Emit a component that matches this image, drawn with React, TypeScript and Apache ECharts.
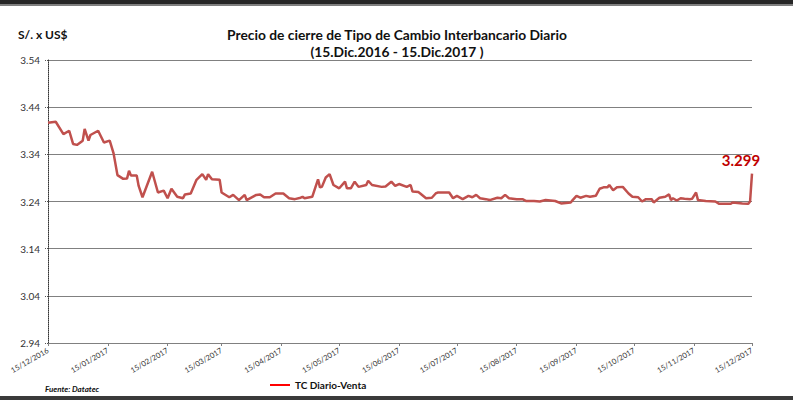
import React, { useEffect, useRef } from "react";
import * as echarts from "echarts";

const titleLine1 = "Precio de cierre de Tipo de Cambio Interbancario Diario";
const titleLine2 = "(15.Dic.2016 - 15.Dic.2017 )";
const yAxisTitle = "S/. x US$";
const sourceText = "Fuente: Datatec";
const seriesName = "TC Diario-Venta";
const rangeStart = "2016-12-15";
const rangeEnd = "2017-12-15";
const yTicks = [2.94, 3.04, 3.14, 3.24, 3.34, 3.44, 3.54];

const dates = [
  "15/12/2016", "19/12/2016", "23/12/2016", "26/12/2016", "28/12/2016", "30/12/2016",
  "02/01/2017", "03/01/2017", "05/01/2017", "06/01/2017", "10/01/2017", "13/01/2017",
  "16/01/2017", "18/01/2017", "20/01/2017", "23/01/2017", "25/01/2017", "26/01/2017",
  "27/01/2017", "30/01/2017", "31/01/2017", "02/02/2017", "07/02/2017", "10/02/2017",
  "13/02/2017", "15/02/2017", "17/02/2017", "20/02/2017", "23/02/2017", "24/02/2017",
  "27/02/2017", "02/03/2017", "05/03/2017", "07/03/2017", "08/03/2017", "10/03/2017",
  "14/03/2017", "15/03/2017", "19/03/2017", "21/03/2017", "24/03/2017", "27/03/2017",
  "28/03/2017", "02/04/2017", "04/04/2017", "06/04/2017", "09/04/2017", "12/04/2017",
  "16/04/2017", "19/04/2017", "22/04/2017", "25/04/2017", "26/04/2017", "27/04/2017",
  "01/05/2017", "04/05/2017", "05/05/2017", "06/05/2017", "08/05/2017", "10/05/2017",
  "12/05/2017", "15/05/2017", "18/05/2017", "19/05/2017", "21/05/2017", "23/05/2017",
  "25/05/2017", "29/05/2017", "30/05/2017", "01/06/2017", "06/06/2017", "08/06/2017",
  "11/06/2017", "13/06/2017", "15/06/2017", "19/06/2017", "21/06/2017", "22/06/2017",
  "25/06/2017", "26/06/2017", "29/06/2017", "02/07/2017", "04/07/2017", "05/07/2017",
  "11/07/2017", "13/07/2017", "15/07/2017", "18/07/2017", "21/07/2017", "23/07/2017",
  "25/07/2017", "27/07/2017", "30/07/2017", "01/08/2017", "05/08/2017", "07/08/2017",
  "09/08/2017", "11/08/2017", "15/08/2017", "18/08/2017", "20/08/2017", "24/08/2017",
  "27/08/2017", "30/08/2017", "04/09/2017", "07/09/2017", "12/09/2017", "13/09/2017",
  "15/09/2017", "17/09/2017", "20/09/2017", "22/09/2017", "25/09/2017", "27/09/2017",
  "29/09/2017", "01/10/2017", "02/10/2017", "04/10/2017", "06/10/2017", "09/10/2017",
  "12/10/2017", "14/10/2017", "17/10/2017", "19/10/2017", "21/10/2017", "24/10/2017",
  "25/10/2017", "28/10/2017", "31/10/2017", "02/11/2017", "03/11/2017", "04/11/2017",
  "06/11/2017", "08/11/2017", "10/11/2017", "13/11/2017", "14/11/2017", "16/11/2017",
  "17/11/2017", "21/11/2017", "26/11/2017", "28/11/2017", "04/12/2017", "05/12/2017",
  "10/12/2017", "13/12/2017", "14/12/2017", "15/12/2017",
];

const rates = [
  3.407, 3.409, 3.383, 3.39, 3.362, 3.36,
  3.369, 3.394, 3.369, 3.381, 3.39, 3.365,
  3.369, 3.342, 3.296, 3.288, 3.289, 3.305,
  3.295, 3.295, 3.273, 3.249, 3.303, 3.259,
  3.263, 3.247, 3.267, 3.25, 3.247, 3.255,
  3.257, 3.286, 3.298, 3.286, 3.298, 3.287,
  3.286, 3.259, 3.249, 3.254, 3.243, 3.254,
  3.243, 3.254, 3.255, 3.249, 3.249, 3.257,
  3.257, 3.247, 3.245, 3.248, 3.25, 3.247,
  3.25, 3.287, 3.27, 3.271, 3.291, 3.298,
  3.275, 3.268, 3.282, 3.268, 3.268, 3.282,
  3.271, 3.275, 3.284, 3.275, 3.271, 3.272,
  3.282, 3.273, 3.277, 3.271, 3.275, 3.261,
  3.26, 3.257, 3.247, 3.248, 3.257, 3.259,
  3.259, 3.247, 3.252, 3.245, 3.252, 3.249,
  3.254, 3.247, 3.245, 3.243, 3.248, 3.247,
  3.254, 3.247, 3.245, 3.245, 3.241, 3.241,
  3.24, 3.243, 3.241, 3.236, 3.238, 3.243,
  3.252, 3.248, 3.252, 3.25, 3.252, 3.267,
  3.27, 3.27, 3.275, 3.264, 3.27, 3.271,
  3.257, 3.25, 3.249, 3.24, 3.245, 3.245,
  3.238, 3.248, 3.25, 3.255, 3.243, 3.247,
  3.242, 3.247, 3.246, 3.245, 3.246, 3.259,
  3.243, 3.241, 3.24, 3.235, 3.235, 3.238,
  3.236, 3.235, 3.24, 3.299,
];

function buildCalendar(start: string, end: string): string[] {
  const out: string[] = [];
  const s = new Date(start + "T00:00:00Z");
  const e = new Date(end + "T00:00:00Z");
  for (let d = s.getTime(); d <= e.getTime(); d += 86400000) {
    const dt = new Date(d);
    const dd = String(dt.getUTCDate()).padStart(2, "0");
    const mm = String(dt.getUTCMonth() + 1).padStart(2, "0");
    out.push(`${dd}/${mm}/${dt.getUTCFullYear()}`);
  }
  return out;
}

export default function App() {
  const ref = useRef<HTMLDivElement>(null);

  useEffect(() => {
    if (!ref.current) return;
    const chart = echarts.init(ref.current, null, { renderer: "svg" });
    const calendar = buildCalendar(rangeStart, rangeEnd);
    const isMonthTick = (_i: number, v: string) => String(v).startsWith("15/");
    const font = "Lato, 'Liberation Sans', sans-serif";
    const last = dates.length - 1;

    const seriesData = dates.map((d, i) => [d, rates[i]]);

    chart.setOption({
      animation: false,
      backgroundColor: "#ffffff",
      textStyle: { fontFamily: font },
      title: [
        {
          text: titleLine1 + "\n" + titleLine2,
          left: 392,
          top: 21,
          textAlign: "center",
          textStyle: {
            fontSize: 13.8,
            fontWeight: "bold",
            color: "#111",
            lineHeight: 17,
            fontFamily: font,
            align: "center",
          },
        },
        {
          text: yAxisTitle,
          left: 13,
          top: 23,
          textStyle: { fontSize: 12, fontWeight: "bold", color: "#111", fontFamily: font },
        },
        {
          text: sourceText,
          left: 40,
          top: 380,
          textStyle: {
            fontSize: 8,
            fontWeight: "bold",
            fontStyle: "italic",
            color: "#111",
            fontFamily: font,
          },
        },
      ],
      legend: {
        data: [{ name: seriesName }],
        left: 265,
        top: 375,
        icon: "rect",
        itemWidth: 20,
        itemHeight: 2,
        itemGap: 4,
        textStyle: { fontSize: 10, fontWeight: "bold", color: "#111", fontFamily: font },
        itemStyle: { color: "#ff0000" },
      },
      grid: { left: 48, right: 41, top: 60, bottom: 57, containLabel: false },
      xAxis: {
        type: "category",
        data: calendar,
        boundaryGap: false,
        axisLine: { lineStyle: { color: "#808080", width: 1 } },
        axisTick: {
          show: true,
          interval: isMonthTick,
          length: 3,
          lineStyle: { color: "#808080" },
        },
        axisLabel: {
          interval: isMonthTick,
          rotate: 30,
          fontSize: 7.6,
          color: "#333",
          margin: 7,
          fontFamily: font,
        },
        splitLine: { show: false },
      },
      yAxis: {
        type: "value",
        min: yTicks[0],
        max: yTicks[yTicks.length - 1],
        interval: 0.1,
        axisLine: { show: true, lineStyle: { color: "#333", type: "dotted", width: 1 } },
        axisTick: { show: true, length: 3, lineStyle: { color: "#555", type: "dotted" } },
        axisLabel: {
          fontSize: 10,
          color: "#333",
          margin: 8,
          fontFamily: font,
          formatter: (v: number) => v.toFixed(2),
        },
        splitLine: {
          show: true,
          lineStyle: { color: "#808080", width: 1, type: "solid" },
        },
      },
      series: [
        {
          name: seriesName,
          type: "line",
          data: seriesData,
          showSymbol: false,
          symbol: "none",
          lineStyle: { color: "#c0504d", width: 2.5 },
          itemStyle: { color: "#ff0000" },
          color: "#ff0000",
          markPoint: {
            symbol: "circle",
            symbolSize: 0,
            data: [
              {
                coord: [dates[last], rates[last]],
                value: rates[last],
                label: {
                  show: true,
                  position: "top",
                  distance: 6,
                  offset: [-11, 0],
                  formatter: (p: any) => Number(p.value).toFixed(3),
                  color: "#c00000",
                  fontWeight: "bold",
                  fontSize: 15,
                  fontFamily: font,
                },
              },
            ],
          },
        },
      ],
      graphic: [
        { type: "rect", shape: { x: 0, y: 0, width: 793, height: 4 }, style: { fill: "#262626" }, silent: true },
        { type: "rect", shape: { x: 0, y: 4, width: 793, height: 2 }, style: { fill: "#7f7f7f" }, silent: true },
        { type: "rect", shape: { x: 0, y: 396, width: 793, height: 4 }, style: { fill: "#3a3a3a" }, silent: true },
      ],
    });

    return () => chart.dispose();
  }, []);

  return (
    <div
      ref={ref}
      style={{ position: "absolute", left: 0, top: 0, width: 793, height: 400 }}
    />
  );
}
